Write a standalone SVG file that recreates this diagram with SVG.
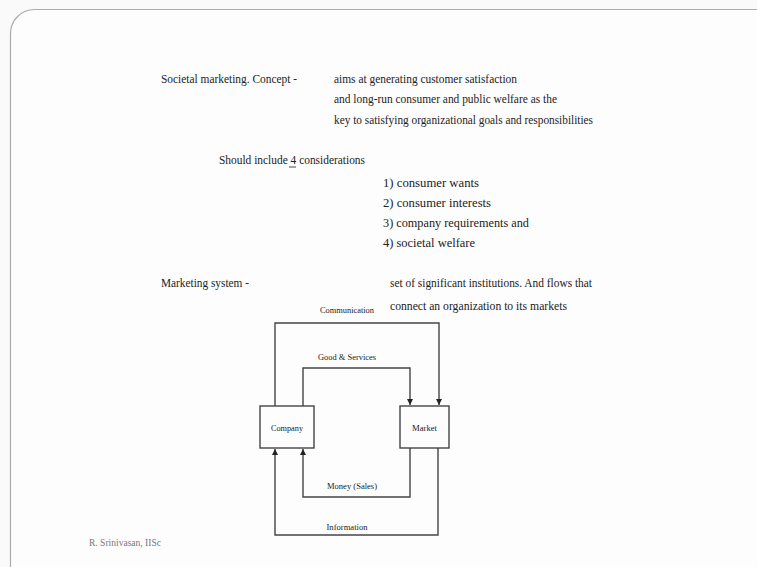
<svg xmlns="http://www.w3.org/2000/svg" width="757" height="567" viewBox="0 0 757 567">
<defs>
<style>
.t{font-family:"Liberation Serif","Times New Roman",serif;font-size:12.5px;fill:#222;}
.s{font-family:"Liberation Serif","Times New Roman",serif;font-size:8.5px;fill:#222;}
.box{fill:#fdfdfd;stroke:#444;stroke-width:1.4;}
.ln{fill:none;stroke:#444;stroke-width:1.4;}
</style>
<marker id="ah" viewBox="0 0 10 10" refX="10" refY="5" markerWidth="6" markerHeight="6" orient="auto" markerUnits="userSpaceOnUse">
<path d="M0,0 L10,5 L0,10 z" fill="#222"/>
</marker>
</defs>
<rect x="0" y="0" width="757" height="567" fill="#fafafa"/>
<rect x="10.5" y="9.5" width="770" height="580" rx="24" fill="#fdfdfd" stroke="#aaa" stroke-width="1.2"/>

<g id="text">
<text class="t" x="161" y="83" textLength="136" lengthAdjust="spacingAndGlyphs">Societal marketing. Concept -</text>
<text class="t" x="334" y="83" textLength="183" lengthAdjust="spacingAndGlyphs">aims at generating customer satisfaction</text>
<text class="t" x="334" y="103" textLength="223" lengthAdjust="spacingAndGlyphs">and long-run consumer and public welfare as the</text>
<text class="t" x="334" y="124" textLength="259" lengthAdjust="spacingAndGlyphs">key to satisfying organizational goals and responsibilities</text>
<text class="t" x="219" y="164" textLength="146" lengthAdjust="spacingAndGlyphs">Should include 4 considerations</text>
<line x1="289" y1="167" x2="296" y2="167" stroke="#333" stroke-width="0.9"/>
<text class="t" x="383" y="187" textLength="96" lengthAdjust="spacingAndGlyphs">1) consumer wants</text>
<text class="t" x="383" y="207" textLength="108" lengthAdjust="spacingAndGlyphs">2) consumer interests</text>
<text class="t" x="383" y="227" textLength="146" lengthAdjust="spacingAndGlyphs">3) company requirements and</text>
<text class="t" x="383" y="247" textLength="92" lengthAdjust="spacingAndGlyphs">4) societal welfare</text>
<text class="t" x="161" y="287" textLength="88" lengthAdjust="spacingAndGlyphs">Marketing system -</text>
<text class="t" x="390" y="287" textLength="202" lengthAdjust="spacingAndGlyphs">set of significant institutions. And flows that</text>
<text class="t" x="390" y="310" textLength="177" lengthAdjust="spacingAndGlyphs">connect an organization to its markets</text>
<text x="89" y="546" font-family="Liberation Serif, serif" font-size="9.5" fill="#777" textLength="72" lengthAdjust="spacingAndGlyphs">R. Srinivasan, IISc</text>
</g>

<g id="connectors">
<polyline class="ln" points="275,406 275,323 439,323 439,405" marker-end="url(#ah)"/>
<polyline class="ln" points="303,406 303,368 410,368 410,405" marker-end="url(#ah)"/>
<polyline class="ln" points="410,448 410,497 303,497 303,449" marker-end="url(#ah)"/>
<polyline class="ln" points="438,448 438,535 275,535 275,449" marker-end="url(#ah)"/>
<text class="s" x="347" y="313" text-anchor="middle" textLength="54" lengthAdjust="spacingAndGlyphs">Communication</text>
<text class="s" x="347" y="360" text-anchor="middle" textLength="58" lengthAdjust="spacingAndGlyphs">Good &amp; Services</text>
<text class="s" x="352" y="489" text-anchor="middle" textLength="50" lengthAdjust="spacingAndGlyphs">Money (Sales)</text>
<text class="s" x="347" y="530" text-anchor="middle" textLength="41" lengthAdjust="spacingAndGlyphs">Information</text>
</g>

<g id="company">
<rect class="box" x="260" y="406" width="54" height="42"/>
<text class="s" x="287" y="431" text-anchor="middle" textLength="32" lengthAdjust="spacingAndGlyphs">Company</text>
</g>
<g id="market">
<rect class="box" x="400" y="406" width="49" height="42"/>
<text class="s" x="424.5" y="431" text-anchor="middle" textLength="25" lengthAdjust="spacingAndGlyphs">Market</text>
</g>
</svg>
